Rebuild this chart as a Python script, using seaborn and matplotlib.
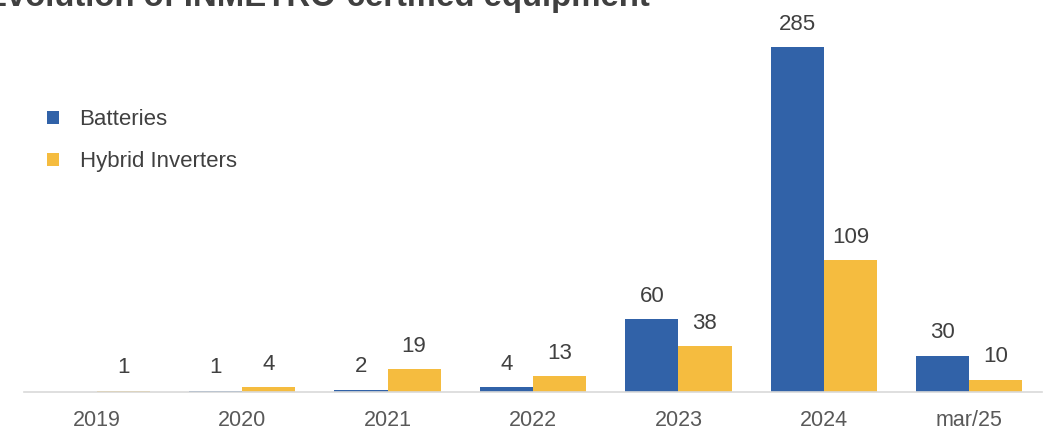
import matplotlib
matplotlib.use("Agg")
import matplotlib.pyplot as plt
import seaborn as sns
import pandas as pd

categories = ["2019", "2020", "2021", "2022", "2023", "2024", "mar/25"]
batteries = [0, 1, 2, 4, 60, 285, 30]
hybrid_inverters = [1, 4, 19, 13, 38, 109, 10]
series_names = ["Batteries", "Hybrid Inverters"]
title = "Evolution of INMETRO-certified equipment"

df = pd.DataFrame({
    "period": categories * 2,
    "count": batteries + hybrid_inverters,
    "series": [series_names[0]] * len(categories) + [series_names[1]] * len(categories),
})

sns.set_theme(style="white")
plt.rcParams["font.family"] = ["Liberation Sans", "DejaVu Sans"]

palette = {"Batteries": "#3162A8", "Hybrid Inverters": "#F5BC3F"}

fig = plt.figure(figsize=(10.46, 4.33), dpi=100)
ax = fig.add_axes([24 / 1046, 1 - 392 / 433, 1018 / 1046, 392 / 433])

sns.barplot(data=df, x="period", y="count", hue="series", palette=palette,
            width=0.73, linewidth=0, saturation=1, ax=ax, legend=True)

ax.set_xlim(-0.5, 6.5)
ax.set_ylim(0, 324)

for container in ax.containers:
    labels = [f"{int(v)}" if v > 0 else "" for v in container.datavalues]
    ax.bar_label(container, labels=labels, padding=9, fontsize=16, color="#404040")

for side in ["top", "right", "left"]:
    ax.spines[side].set_visible(False)
ax.spines["bottom"].set_color("#D9D9D9")
ax.spines["bottom"].set_linewidth(1.2)
ax.set_yticks([])
ax.set_xlabel("")
ax.set_ylabel("")
ax.tick_params(axis="x", length=0, pad=13, labelsize=15.5, labelcolor="#595959")

leg = ax.legend(loc="upper left", bbox_to_anchor=(0.0138, 0.744), frameon=False,
                fontsize=16, handlelength=0.55, handleheight=0.55,
                handletextpad=0.92, labelspacing=0.95, borderaxespad=0)
for t in leg.get_texts():
    t.set_color("#404040")

fig.text(-15 / 1046, 1 - 6 / 433, title, fontsize=23.7, fontweight="bold",
         color="#404040", ha="left", va="baseline")

fig.savefig("out.png", dpi=100)
